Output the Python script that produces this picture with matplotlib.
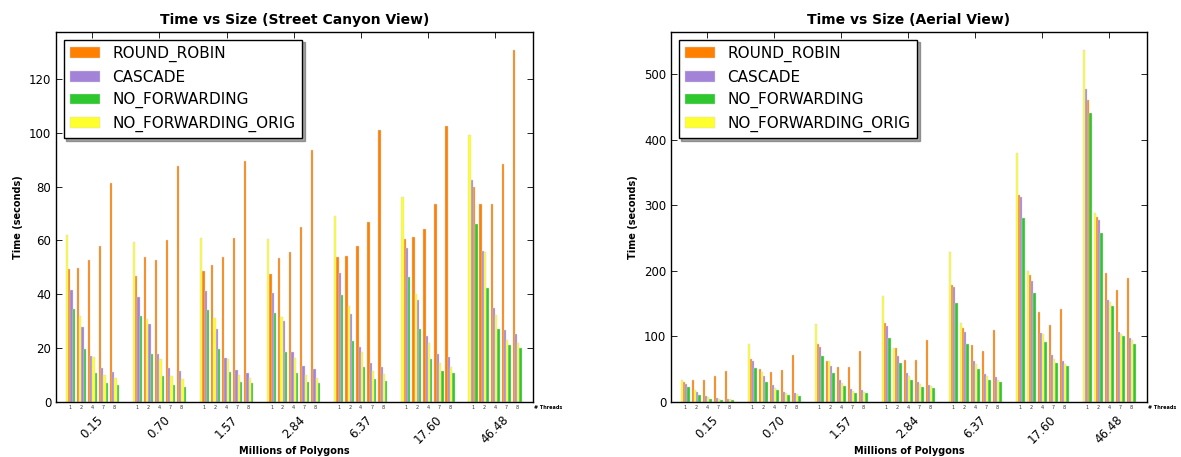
import matplotlib
matplotlib.use('Agg')
import matplotlib.pyplot as plt
import numpy as np

groups = ['0.15', '0.70', '1.57', '2.84', '6.37', '17.60', '46.48']
threads = ['1', '2', '4', '7', '8']
series_names = ['ROUND_ROBIN', 'CASCADE', 'NO_FORWARDING', 'NO_FORWARDING_ORIG']
colors = ['#ff7f00', '#a283d8', '#2ec72e', '#ffff2e']

# Street canyon view: one row per polygon count, one column per thread count
street_rr = [
    [49.5, 49.8, 52.8, 58.0, 81.5],
    [46.8, 53.8, 52.8, 60.2, 87.5],
    [48.7, 50.9, 53.9, 61.0, 89.5],
    [47.6, 53.5, 55.8, 65.0, 93.5],
    [54.0, 54.4, 58.0, 67.0, 101.0],
    [60.6, 61.3, 64.3, 73.6, 102.5],
    [79.9, 73.6, 73.6, 88.5, 130.9],
]
street_cas = [
    [41.6, 28.0, 17.0, 12.5, 11.2],
    [39.0, 29.0, 17.8, 12.8, 11.6],
    [41.3, 27.0, 16.3, 11.8, 10.8],
    [40.5, 30.1, 18.6, 13.4, 12.3],
    [48.0, 32.7, 20.4, 14.5, 13.1],
    [57.2, 37.9, 24.5, 17.8, 16.6],
    [82.5, 56.1, 34.9, 26.8, 25.3],
]
street_nf = [
    [34.6, 19.7, 10.8, 7.2, 6.5],
    [32.0, 17.9, 9.8, 6.3, 5.7],
    [34.2, 19.7, 11.2, 7.5, 7.1],
    [33.1, 18.7, 10.8, 7.5, 7.0],
    [39.7, 22.8, 13.0, 8.5, 7.9],
    [46.5, 27.2, 16.1, 11.6, 10.9],
    [66.2, 42.4, 27.1, 21.2, 20.2],
]
street_orig = [
    [62.0, 32.0, 16.6, 10.0, 9.0],
    [59.6, 30.9, 15.8, 9.6, 8.5],
    [61.0, 31.2, 16.1, 10.0, 8.8],
    [60.6, 31.6, 16.3, 10.0, 8.8],
    [69.0, 35.7, 18.6, 11.5, 10.3],
    [76.2, 40.1, 21.9, 14.5, 13.1],
    [99.3, 55.7, 32.3, 23.0, 21.9],
]

# Aerial view
aerial_rr = [
    [31, 34, 33, 40, 47],
    [66, 51, 46, 49, 71],
    [88, 63, 54, 54, 77],
    [121, 82, 64, 64, 94],
    [178, 113, 87, 77, 110],
    [315, 193, 137, 118, 142],
    [460, 282, 197, 170, 189],
]
aerial_cas = [
    [28, 15, 9, 6, 5],
    [63, 39, 26, 15, 14],
    [84, 55, 33, 20, 19],
    [116, 70, 44, 30, 26],
    [176, 106, 62, 43, 38],
    [312, 185, 105, 71, 63],
    [477, 278, 156, 106, 97],
]
aerial_nf = [
    [23, 11, 5, 3.5, 3],
    [52, 30, 18, 10, 9],
    [70, 44, 24, 14, 13],
    [98, 60, 34, 23, 21],
    [151, 89, 50, 33, 31],
    [280, 166, 92, 60, 55],
    [440, 257, 146, 101, 89],
]
aerial_orig = [
    [34, 18, 8, 5, 4],
    [88, 46, 22, 13, 12],
    [119, 62, 29, 17, 16],
    [162, 83, 40, 27, 24],
    [229, 120, 58, 40, 34],
    [380, 200, 103, 66, 58],
    [537, 288, 153, 103, 94],
]

THREAD_STEP = 0.164
BAR_W = 0.034


def draw_panel(ax, series, title):
    vals = np.array(series, dtype=float)          # (4, groups, threads)
    centers = np.arange(len(groups))[:, None] + (np.arange(len(threads)) - 2) * THREAD_STEP
    # inside every cluster the bars are laid out tallest first
    rank = np.argsort(np.argsort(-vals, axis=0), axis=0)
    for k in range(len(series_names)):
        xs = centers + (rank[k] - 1.5) * BAR_W
        ax.bar(xs.ravel(), vals[k].ravel(), width=BAR_W, align='center',
               color=colors[k], edgecolor='#d8d8d8', linewidth=0.3,
               label=series_names[k], zorder=2)

    ax.set_xlim(-0.54, len(groups) - 1 + 0.565)
    ax.set_ylim(0, vals.max() * 1.05)

    ax.set_xticks(np.arange(len(groups)))
    ax.set_xticklabels(groups, rotation=45, fontsize=8.5)
    ax.tick_params(axis='x', direction='in', top=True, bottom=False,
                   length=4, width=0.6, pad=8)
    ax.tick_params(axis='y', direction='in', left=True, right=True,
                   length=4, width=0.6, labelsize=8.5)

    trans = ax.get_xaxis_transform()
    for g in range(len(groups)):
        for t, lab in enumerate(threads):
            ax.text(centers[g, t], -0.007, lab, transform=trans, fontsize=3.5,
                    ha='center', va='top', color='#333333')
    ax.text(1.002, -0.007, '# Threads', transform=ax.transAxes, fontsize=3.5,
            fontweight='bold', ha='left', va='top')

    ax.set_title(title, fontsize=10, fontweight='bold')
    ax.set_xlabel('Millions of Polygons', fontsize=7, fontweight='bold', labelpad=0)
    ax.set_ylabel('Time (seconds)', fontsize=7, fontweight='bold')
    for sp in ax.spines.values():
        sp.set_linewidth(1.0)

    leg = ax.legend(loc='upper left', fontsize=11, shadow=True, fancybox=False,
                    handlelength=2.0, borderaxespad=0.5)
    leg.get_frame().set_edgecolor('black')
    leg.get_frame().set_linewidth(1.0)


fig = plt.figure(figsize=(11.81, 4.57), dpi=100)
ax1 = fig.add_axes([56 / 1181, 55 / 457, 477 / 1181, 370 / 457])
ax2 = fig.add_axes([671 / 1181, 55 / 457, 476 / 1181, 370 / 457])

draw_panel(ax1, [street_rr, street_cas, street_nf, street_orig],
           'Time vs Size (Street Canyon View)')
draw_panel(ax2, [aerial_rr, aerial_cas, aerial_nf, aerial_orig],
           'Time vs Size (Aerial View)')

fig.savefig('out.png', dpi=100)
